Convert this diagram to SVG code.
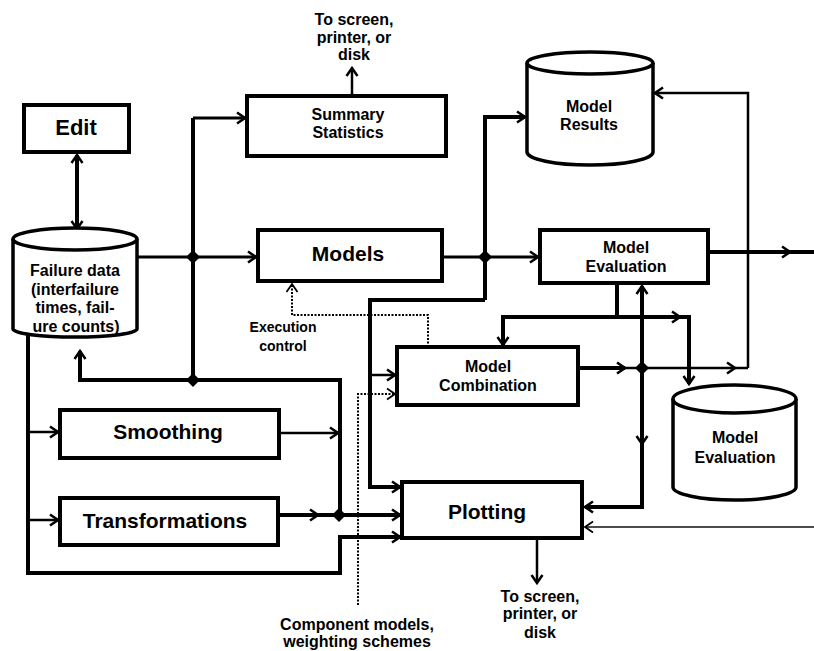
<svg xmlns="http://www.w3.org/2000/svg" width="814" height="651" viewBox="0 0 814 651">
  <style>
    .box { fill: #fff; stroke: #000; stroke-width: 4; }
    .cyl { fill: #fff; stroke: #000; stroke-width: 3.5; }
    .thick { fill: none; stroke: #000; stroke-width: 4; }
    .med { fill: none; stroke: #000; stroke-width: 3; }
    .thin { fill: none; stroke: #000; stroke-width: 2.5; }
    .hair { fill: none; stroke: #111; stroke-width: 1.5; }
    .dot { fill: none; stroke: #000; stroke-width: 2; stroke-dasharray: 2 1.5; }
    .jn { fill: #000; }
    text { font-family: "Liberation Sans", Arial, sans-serif; font-weight: bold; fill: #000; text-anchor: middle; }
    .big { font-size: 21px; }
    .mid { font-size: 16px; }
    .sm { font-size: 14px; }
  </style>
  <defs>
    <marker id="a" viewBox="0 0 14 14" markerWidth="14" markerHeight="14" refX="12" refY="7" orient="auto-start-reverse" markerUnits="userSpaceOnUse">
      <path d="M4,1.5 L12,7 L4,12.5" fill="none" stroke="#000" stroke-width="2.5"/>
    </marker>
    <marker id="h" viewBox="0 0 14 14" markerWidth="14" markerHeight="14" refX="12" refY="7" orient="auto" markerUnits="userSpaceOnUse">
      <path d="M4,1.5 L12,7 L4,12.5" fill="none" stroke="#000" stroke-width="1.8"/>
    </marker>
  </defs>

  <rect width="814" height="651" fill="#fff"/>

  <!-- connectors -->
  <g id="connectors">
    <!-- Edit <-> Failure data -->
    <path class="thick" d="M77,229 V155" marker-start="url(#a)" marker-end="url(#a)"/>
    <!-- Failure data -> Models -->
    <path class="med" d="M137,257 H256" marker-end="url(#a)"/>
    <!-- data bus up to Summary Statistics -->
    <path class="thick" d="M193,380 V118"/>
    <path class="med" d="M193,118 H245" marker-end="url(#a)"/>
    <!-- bus back to Failure data -->
    <path class="thick" d="M193,380 H80 V351" marker-end="url(#a)"/>
    <!-- bus down to Plotting junction -->
    <path class="thick" d="M193,380 H340 V515"/>
    <!-- Smoothing output -->
    <path class="thin" d="M279,433 H338" marker-end="url(#a)"/>
    <!-- Transformations output -->
    <path class="thick" d="M278,515 H318" marker-end="url(#a)"/>
    <path class="thick" d="M318,515 H400" marker-end="url(#a)"/>
    <!-- left bus from Failure data -->
    <path class="thick" d="M28,334 V573 H340 V537 H400" marker-end="url(#a)"/>
    <path class="thin" d="M28,432 H58" marker-end="url(#a)"/>
    <path class="thin" d="M28,520 H58" marker-end="url(#a)"/>
    <!-- Models output -->
    <path class="med" d="M442,257 H538" marker-end="url(#a)"/>
    <path class="thick" d="M485,300 V117 H525" marker-end="url(#a)"/>
    <path class="thick" d="M485,300 H370 V487 H400" marker-end="url(#a)"/>
    <path class="thin" d="M370,375 H395" marker-end="url(#a)"/>
    <!-- feedback to Model Results -->
    <path class="thin" d="M748,368 V93 H655" marker-end="url(#a)"/>
    <!-- Model Evaluation output -->
    <path class="thick" d="M708,252 H790" marker-end="url(#a)"/>
    <path class="thick" d="M790,252 H814"/>
    <!-- Model Evaluation below -->
    <path class="thick" d="M617,283 V317"/>
    <path class="thick" d="M680,317 H503 V345" marker-start="url(#a)" marker-end="url(#a)"/>
    <path class="thick" d="M680,317 H689 V384" marker-end="url(#a)"/>
    <!-- Model Combination output -->
    <path class="thick" d="M578,368 H625" marker-end="url(#a)"/>
    <path class="thin" d="M625,368 H735" marker-end="url(#a)"/>
    <path class="thin" d="M735,368 H748"/>
    <path class="thick" d="M642,368 V286" marker-end="url(#a)"/>
    <path class="thick" d="M642,368 V444" marker-end="url(#a)"/>
    <path class="thick" d="M642,444 V507 H585" marker-end="url(#a)"/>
    <!-- external input to Plotting -->
    <path class="hair" d="M814,527 H585" marker-end="url(#h)"/>
    <!-- execution control -->
    <path class="dot" d="M428,347 V315 H292 V284" marker-end="url(#h)"/>
    <!-- component models -->
    <path class="dot" d="M358,605 V394 H395" marker-end="url(#h)"/>
    <!-- outputs to screen -->
    <path class="thin" d="M352,96 V68" marker-end="url(#a)"/>
    <path class="thin" d="M537,538 V583" marker-end="url(#a)"/>
    <!-- junctions -->
    <polygon class="jn" points="193,250 200,257 193,264 186,257"/>
    <polygon class="jn" points="193,373 200,380 193,387 186,380"/>
    <polygon class="jn" points="485,250 492,257 485,264 478,257"/>
    <polygon class="jn" points="642,361 649,368 642,375 635,368"/>
    <polygon class="jn" points="339,508 346,515 339,522 332,515"/>
  </g>

  <!-- nodes -->
  <g id="edit">
    <rect class="box" x="24" y="105" width="105" height="47"/>
    <text class="big" x="76" y="135" style="font-size:22px">Edit</text>
  </g>

  <g id="failure-data">
    <path class="cyl" d="M13,239 V329 A62,8 0 0 0 137,329 V239"/>
    <ellipse class="cyl" cx="75" cy="239" rx="62" ry="11"/>
    <text class="mid" x="75" y="276">Failure data</text>
    <text class="mid" x="75" y="295">(interfailure</text>
    <text class="mid" x="75" y="313">times, fail-</text>
    <text class="mid" x="76" y="332">ure counts)</text>
  </g>

  <g id="summary-statistics">
    <rect class="box" x="247" y="96" width="199" height="60"/>
    <text class="mid" x="348" y="120">Summary</text>
    <text class="mid" x="348" y="138">Statistics</text>
  </g>

  <g id="summary-output-label">
    <text class="mid" x="354" y="25">To screen,</text>
    <text class="mid" x="354" y="43">printer, or</text>
    <text class="mid" x="354" y="60">disk</text>
  </g>

  <g id="models">
    <rect class="box" x="258" y="230" width="184" height="51"/>
    <text class="big" x="348" y="261">Models</text>
  </g>

  <g id="model-results">
    <path class="cyl" d="M527,63 V152 A63,13 0 0 0 653,152 V63"/>
    <ellipse class="cyl" cx="590" cy="63" rx="63" ry="11"/>
    <text class="mid" x="589" y="112">Model</text>
    <text class="mid" x="589" y="130">Results</text>
  </g>

  <g id="model-evaluation">
    <rect class="box" x="540" y="230" width="168" height="53"/>
    <text class="mid" x="626" y="253">Model</text>
    <text class="mid" x="626" y="272">Evaluation</text>
  </g>

  <g id="execution-control-label">
    <text class="sm" x="283" y="332">Execution</text>
    <text class="sm" x="283" y="351">control</text>
  </g>

  <g id="model-combination">
    <rect class="box" x="397" y="347" width="181" height="58"/>
    <text class="mid" x="488" y="372">Model</text>
    <text class="mid" x="488" y="391">Combination</text>
  </g>

  <g id="model-evaluation-store">
    <path class="cyl" d="M673,399 V487 A61.5,13 0 0 0 796,487 V399"/>
    <ellipse class="cyl" cx="734.5" cy="399" rx="61.5" ry="14"/>
    <text class="mid" x="735" y="443">Model</text>
    <text class="mid" x="735" y="463">Evaluation</text>
  </g>

  <g id="smoothing">
    <rect class="box" x="60" y="410" width="219" height="48"/>
    <text class="big" x="168" y="439">Smoothing</text>
  </g>

  <g id="transformations">
    <rect class="box" x="60" y="498" width="218" height="47"/>
    <text class="big" x="165" y="528">Transformations</text>
  </g>

  <g id="plotting">
    <rect class="box" x="402" y="482" width="180" height="56"/>
    <text class="big" x="487" y="519">Plotting</text>
  </g>

  <g id="plotting-output-label">
    <text class="mid" x="540" y="602">To screen,</text>
    <text class="mid" x="540" y="619">printer, or</text>
    <text class="mid" x="540" y="638">disk</text>
  </g>

  <g id="component-models-label">
    <text class="mid" x="357" y="630">Component models,</text>
    <text class="mid" x="357" y="647">weighting schemes</text>
  </g>
</svg>
